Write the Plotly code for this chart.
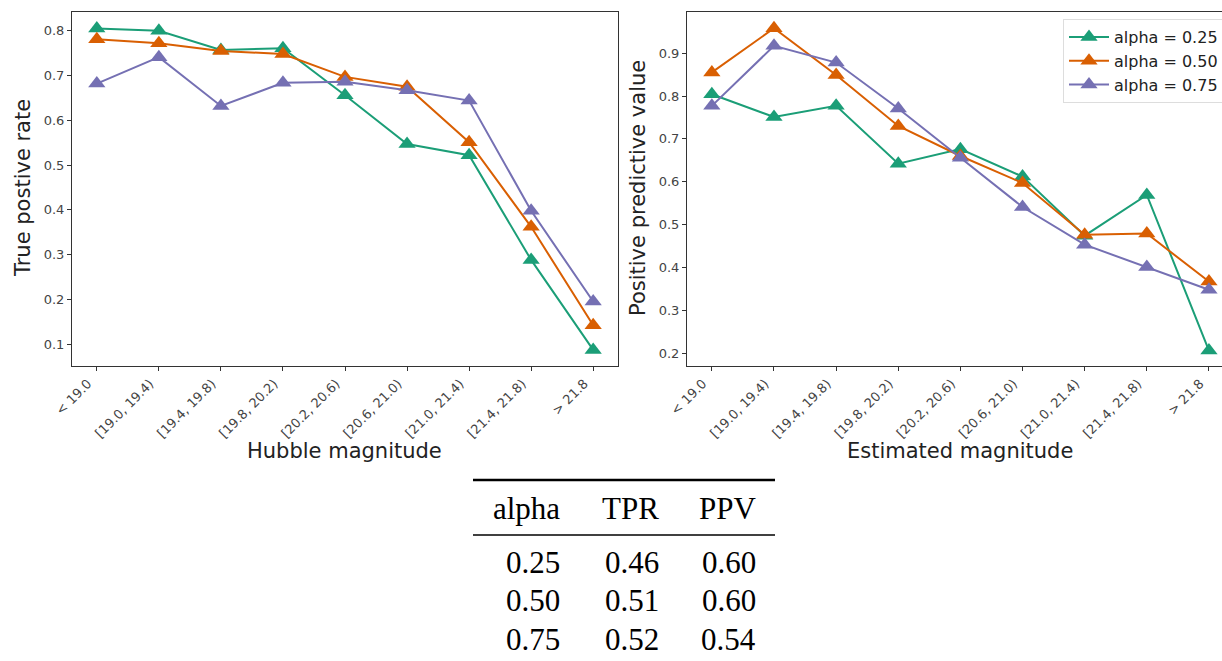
import plotly.graph_objects as go

categories = ["< 19.0", "[19.0, 19.4)", "[19.4, 19.8)", "[19.8, 20.2)", "[20.2, 20.6)",
              "[20.6, 21.0)", "[21.0, 21.4)", "[21.4, 21.8)", "> 21.8"]
series_names = ["alpha = 0.25", "alpha = 0.50", "alpha = 0.75"]
colors = ["#1b9e77", "#d95f02", "#7570b3"]

tpr_025 = [0.805, 0.800, 0.757, 0.761, 0.656, 0.547, 0.522, 0.288, 0.087]
tpr_050 = [0.781, 0.772, 0.755, 0.748, 0.697, 0.675, 0.551, 0.362, 0.142]
tpr_075 = [0.682, 0.741, 0.632, 0.684, 0.686, 0.667, 0.644, 0.398, 0.195]

ppv_025 = [0.804, 0.751, 0.777, 0.642, 0.676, 0.612, 0.474, 0.569, 0.206]
ppv_050 = [0.855, 0.958, 0.849, 0.730, 0.660, 0.597, 0.476, 0.479, 0.367]
ppv_075 = [0.777, 0.917, 0.878, 0.771, 0.656, 0.541, 0.453, 0.401, 0.348]

table_header = ["alpha", "TPR", "PPV"]
table_alpha = ["0.25", "0.50", "0.75"]
table_tpr = ["0.46", "0.51", "0.52"]
table_ppv = ["0.60", "0.60", "0.54"]

W, H = 1222, 661
def px(x):
    return x / W
def py(y):
    return 1 - y / H

fig = go.Figure()
idx = list(range(len(categories)))

for vals, name, c in zip([tpr_025, tpr_050, tpr_075], series_names, colors):
    fig.add_trace(go.Scatter(x=idx, y=vals, mode="lines+markers", name=name,
                             line=dict(color=c, width=2),
                             marker=dict(symbol="triangle-up", size=15, color=c),
                             xaxis="x", yaxis="y", showlegend=False))
for vals, name, c in zip([ppv_025, ppv_050, ppv_075], series_names, colors):
    fig.add_trace(go.Scatter(x=idx, y=vals, mode="lines+markers", name=name,
                             line=dict(color=c, width=2),
                             marker=dict(symbol="triangle-up", size=15, color=c),
                             xaxis="x2", yaxis="y2", showlegend=True))

tickfont = dict(family="DejaVu Sans", size=13, color="#444444")
common_x = dict(tickmode="array", tickvals=idx, ticktext=categories, tickangle=-45,
                ticks="outside", ticklen=4, tickcolor="#333333", showgrid=False,
                zeroline=False, showline=True, linecolor="#333333", linewidth=1,
                tickfont=tickfont, ticklabelshift=-9, automargin=False)
common_y = dict(ticks="outside", ticklen=4, tickcolor="#333333", showgrid=False,
                zeroline=False, showline=True, linecolor="#333333", linewidth=1,
                tickfont=tickfont, dtick=0.1, tickformat=".1f", automargin=False)

fig.update_layout(
    width=W, height=H, margin=dict(l=0, r=0, t=0, b=0, autoexpand=False),
    paper_bgcolor="white", plot_bgcolor="white",
    xaxis=dict(domain=[px(72), px(618)], range=[-0.4, 8.4], mirror=True, anchor="y", **common_x),
    yaxis=dict(domain=[py(366), py(12)], range=[0.051, 0.842], mirror=True, anchor="x", **common_y),
    xaxis2=dict(domain=[px(687), 1.0], range=[-0.4, 8.21], mirror=True, anchor="y2", **common_x),
    yaxis2=dict(domain=[py(366), py(12)], range=[0.170, 0.996], mirror=False, anchor="x2", **common_y),
    legend=dict(x=px(1063), y=py(19), xanchor="left", yanchor="top",
                bgcolor="rgba(255,255,255,0.8)", bordercolor="#dddddd", borderwidth=1,
                font=dict(family="DejaVu Sans", size=16, color="#222222"),
                tracegroupgap=0, itemwidth=40),
    showlegend=True,
)

title_font = dict(family="DejaVu Sans", size=21, color="#222222")
fig.add_annotation(text="Hubble magnitude", x=px(344), y=py(451), xref="paper", yref="paper",
                   showarrow=False, font=title_font, xanchor="center", yanchor="middle")
fig.add_annotation(text="Estimated magnitude", x=px(960), y=py(451), xref="paper", yref="paper",
                   showarrow=False, font=title_font, xanchor="center", yanchor="middle")
fig.add_annotation(text="True postive rate", x=px(23), y=py(188), xref="paper", yref="paper",
                   showarrow=False, font=title_font, textangle=-90, xanchor="center", yanchor="middle")
fig.add_annotation(text="Positive predictive value", x=px(638), y=py(188), xref="paper", yref="paper",
                   showarrow=False, font=title_font, textangle=-90, xanchor="center", yanchor="middle")

# Table
tfont = dict(family="Liberation Serif", size=31, color="black")
col_right = [562, 661, 758]
fig.add_shape(type="line", xref="paper", yref="paper", x0=px(473), x1=px(775),
              y0=py(480), y1=py(480), line=dict(color="black", width=2.5))
fig.add_shape(type="line", xref="paper", yref="paper", x0=px(473), x1=px(775),
              y0=py(535), y1=py(535), line=dict(color="black", width=1.5))
for h, xr in zip(table_header, col_right):
    fig.add_annotation(text=h, x=px(xr), y=py(508), xref="paper", yref="paper", showarrow=False,
                       font=tfont, xanchor="right", yanchor="middle")
row_y = [562, 600, 639]
for col, xr in zip([table_alpha, table_tpr, table_ppv], col_right):
    for v, yy in zip(col, row_y):
        fig.add_annotation(text=v, x=px(xr), y=py(yy), xref="paper", yref="paper", showarrow=False,
                           font=tfont, xanchor="right", yanchor="middle")

fig.write_html("out.html")
